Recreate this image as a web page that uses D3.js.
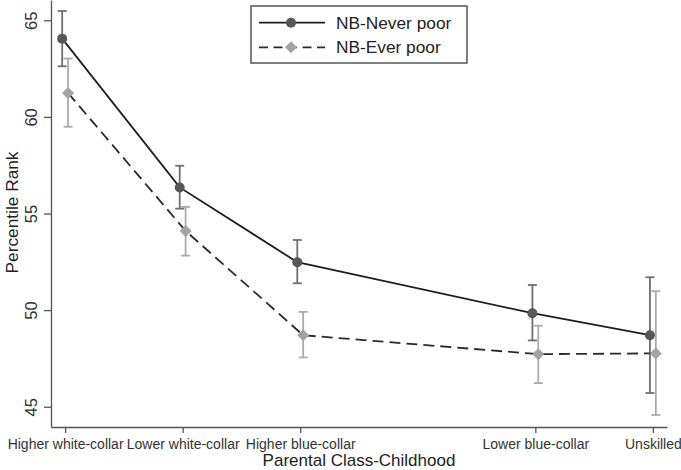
<!DOCTYPE html>
<html>
<head>
<meta charset="utf-8">
<script src="https://cdn.jsdelivr.net/npm/d3@7"></script>
<style>
  html, body { margin: 0; padding: 0; background: #fff; }
  svg { display: block; font-family: "Liberation Sans", Arial, sans-serif; }
</style>
</head>
<body>
<svg id="chart" width="681" height="470"></svg>
<script>
// Parental class categories and their positions on the x axis
const categories = ["Higher white-collar", "Lower white-collar", "Higher blue-collar", "Lower blue-collar", "Unskilled"];
const classPosition = [1, 2, 3, 5, 6];

// NB-Never poor: mean percentile rank with 95% CI
const neverPoor     = [64.05, 56.35, 52.48, 49.84, 48.70];
const neverPoorLow  = [62.62, 55.25, 51.39, 48.43, 45.71];
const neverPoorHigh = [65.48, 57.47, 53.63, 51.30, 51.70];

// NB-Ever poor: mean percentile rank with 95% CI
const everPoor      = [61.24, 54.10, 48.70, 47.72, 47.76];
const everPoorLow   = [59.49, 52.82, 47.55, 46.22, 44.57];
const everPoorHigh  = [63.02, 55.34, 49.91, 49.19, 50.98];

const yTicks = [45, 50, 55, 60, 65];
const seriesNames = ["NB-Never poor", "NB-Ever poor"];

const svg = d3.select("#chart");

const x = d3.scaleLinear().domain([0.88, 6.12]).range([51, 667]);
const y = d3.scaleLinear().domain([43.95, 66.05]).range([427, 0]);

// small horizontal offset so the two series' error bars don't overlap
const dodge = 0.025;

const series = [
  { name: seriesNames[0], mean: neverPoor, lo: neverPoorLow, hi: neverPoorHigh,
    off: -dodge, marker: "circle", fill: "#575757", ci: "#6f6f6f", line: "#1e1e1e", dash: null },
  { name: seriesNames[1], mean: everPoor, lo: everPoorLow, hi: everPoorHigh,
    off: dodge, marker: "diamond", fill: "#a3a3a3", ci: "#ababab", line: "#2a2a2a", dash: "11,6" }
];

// axes
const yAxis = svg.append("g")
  .attr("transform", "translate(51,0)")
  .call(d3.axisLeft(y).tickValues(yTicks).tickSize(7).tickSizeOuter(0));
yAxis.select(".domain").attr("stroke", "#555").attr("stroke-width", 1.3);
yAxis.selectAll(".tick line").attr("stroke", "#555").attr("stroke-width", 1.3);
yAxis.selectAll(".tick text")
  .attr("x", 0).attr("dy", 0).attr("y", -14.5)
  .attr("transform", "rotate(-90)")
  .attr("text-anchor", "middle")
  .attr("fill", "#333")
  .style("font-size", "16.5px")
  .style("font-family", "Liberation Sans, Arial, sans-serif");

const xAxis = svg.append("g")
  .attr("transform", "translate(0,427)")
  .call(d3.axisBottom(x).tickValues(classPosition).tickSize(6).tickSizeOuter(0)
    .tickFormat((d, i) => categories[i]));
xAxis.select(".domain").attr("stroke", "#555").attr("stroke-width", 1.3);
xAxis.selectAll(".tick line").attr("stroke", "#555").attr("stroke-width", 1.3);
xAxis.selectAll(".tick text")
  .attr("y", 21.5).attr("dy", 0)
  .attr("fill", "#333")
  .style("font-size", "14px")
  .style("font-family", "Liberation Sans, Arial, sans-serif");

// axis titles
svg.append("text")
  .attr("transform", "translate(17.5,212.5) rotate(-90)")
  .attr("text-anchor", "middle")
  .attr("fill", "#222")
  .style("font-size", "17.3px")
  .text("Percentile Rank");

svg.append("text")
  .attr("x", 359).attr("y", 466)
  .attr("text-anchor", "middle")
  .attr("fill", "#222")
  .style("font-size", "17px")
  .text("Parental Class-Childhood");

const diamondPath = (cx, cy, r) => `M${cx},${cy - r}L${cx + r},${cy}L${cx},${cy + r}L${cx - r},${cy}Z`;

series.forEach(s => {
  const g = svg.append("g");
  const pts = classPosition.map((p, i) => ({ px: x(p + s.off), m: s.mean[i], lo: s.lo[i], hi: s.hi[i] }));

  // connecting line
  g.append("path")
    .datum(pts)
    .attr("fill", "none")
    .attr("stroke", s.line)
    .attr("stroke-width", 1.8)
    .attr("stroke-dasharray", s.dash)
    .attr("d", d3.line().x(d => d.px).y(d => y(d.m)));

  // confidence intervals
  const cap = 4.5;
  const ci = g.append("g").attr("stroke", s.ci).attr("stroke-width", 1.8).attr("fill", "none");
  pts.forEach(d => {
    ci.append("line").attr("x1", d.px).attr("x2", d.px).attr("y1", y(d.lo)).attr("y2", y(d.hi));
    ci.append("line").attr("x1", d.px - cap).attr("x2", d.px + cap).attr("y1", y(d.lo)).attr("y2", y(d.lo));
    ci.append("line").attr("x1", d.px - cap).attr("x2", d.px + cap).attr("y1", y(d.hi)).attr("y2", y(d.hi));
  });

  // markers
  pts.forEach(d => {
    if (s.marker === "circle") {
      g.append("circle").attr("cx", d.px).attr("cy", y(d.m)).attr("r", 5).attr("fill", s.fill);
    } else {
      g.append("path").attr("d", diamondPath(d.px, y(d.m), 6)).attr("fill", s.fill);
    }
  });
});

// legend
const legend = svg.append("g");
legend.append("rect")
  .attr("x", 251).attr("y", 6).attr("width", 216).attr("height", 57)
  .attr("fill", "#fff").attr("stroke", "#555").attr("stroke-width", 1.5);

series.forEach((s, i) => {
  const ly = 22.7 + i * 24.6;
  legend.append("line")
    .attr("x1", 259).attr("x2", 325).attr("y1", ly).attr("y2", ly)
    .attr("stroke", s.line).attr("stroke-width", 1.8)
    .attr("stroke-dasharray", s.dash ? "9,5.5" : null);
  if (s.marker === "circle") {
    legend.append("circle").attr("cx", 291).attr("cy", ly).attr("r", 5).attr("fill", s.fill);
  } else {
    legend.append("path").attr("d", diamondPath(291, ly, 6)).attr("fill", s.fill);
  }
  legend.append("text")
    .attr("x", 336).attr("y", ly + 6)
    .attr("fill", "#222")
    .style("font-size", "17.3px")
    .text(s.name);
});
</script>
</body>
</html>
